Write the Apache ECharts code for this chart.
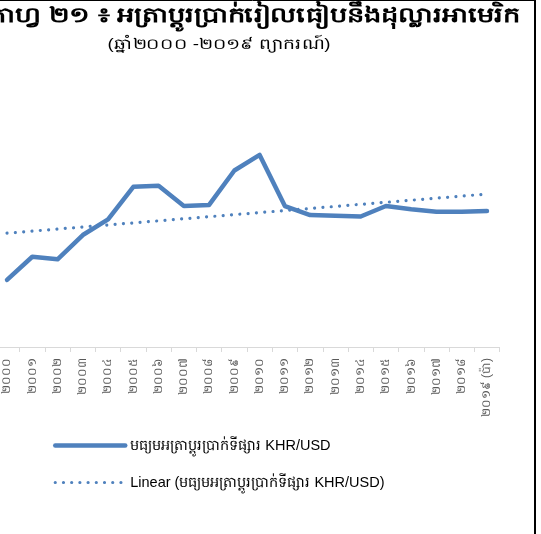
<!DOCTYPE html>
<html>
<head>
<meta charset="utf-8">
<style>
html,body{margin:0;padding:0;background:#fff;overflow:hidden;}
#wrap{position:relative;width:541px;height:534px;overflow:hidden;}
#chart{position:absolute;left:-30px;top:0;width:571px;height:534px;}
</style>
<script src="https://cdn.jsdelivr.net/npm/echarts@6/dist/echarts.min.js"></script>
</head>
<body>
<div id="wrap"><div id="chart"></div></div>
<script>
const categories = ['២០០០','២០០១','២០០២','២០០៣','២០០៤','២០០៥','២០០៦','២០០៧','២០០៨','២០០៩','២០១០','២០១១','២០១២','២០១៣','២០១៤','២០១៥','២០១៦','២០១៧','២០១៨','២០១៩ (ប៉ា)'];
const rateValues = [3840,3904,3897,3964,4007,4097,4100,4044,4047,4142,4185,4044,4019,4017,4015,4044,4035,4028,4028,4030];
const trendStart = 3969;
const trendEnd = 4077;
const seriesName = 'មធ្យមអត្រាប្តូរប្រាក់ទីផ្សារ KHR/USD';
const trendName = 'Linear (មធ្យមអត្រាប្តូរប្រាក់ទីផ្សារ KHR/USD)';
const titleText = 'ក្រាហ្វ ២១ ៖ អត្រាប្តូរប្រាក់រៀលធៀបនឹងដុល្លារអាមេរិក';
const subtitleText = '(ឆ្នាំ២០០០ -២០១៩ ព្យាករណ៍)';

const trendData = categories.map((c, i) => i === 0 ? trendStart : (i === categories.length - 1 ? trendEnd : null));
const FONT = '"Liberation Sans", "Noto Sans", "DejaVu Sans", sans-serif';
const OX = 30; // container offset (chart is cropped on the left)
const BLUE = '#4F81BD';

const chart = echarts.init(document.getElementById('chart'));
chart.setOption({
  animation: false,
  backgroundColor: '#ffffff',
  grid: { left: OX - 5.6, right: 41.4, top: 77, bottom: 187, containLabel: false },
  xAxis: {
    type: 'category',
    data: categories,
    boundaryGap: true,
    axisLine: { lineStyle: { color: '#d9d9d9', width: 1 } },
    axisTick: { show: true, alignWithLabel: false, length: 5, lineStyle: { color: '#d9d9d9' } },
    axisLabel: { rotate: 90, interval: 0, margin: 11, fontSize: 12, color: '#595959', fontFamily: FONT }
  },
  yAxis: {
    type: 'value', min: 3655, max: 4400, show: false, splitLine: { show: false }
  },
  legend: {
    orient: 'vertical', left: OX + 53, top: 438, padding: 0, itemWidth: 70, itemHeight: 14, itemGap: 22,
    itemStyle: { opacity: 0 },
    textStyle: { fontSize: 14.5, color: '#000', fontFamily: FONT },
    data: [
      { name: seriesName, lineStyle: { width: 4.5, cap: 'round', color: BLUE } },
      { name: trendName, lineStyle: { width: 3.2, type: [0.01, 8.2], cap: 'round', color: BLUE } }
    ]
  },
  series: [
    {
      name: seriesName, type: 'line', data: rateValues, symbol: 'none',
      lineStyle: { color: BLUE, width: 4.5, cap: 'round', join: 'round' },
      itemStyle: { color: BLUE }
    },
    {
      name: trendName, type: 'line', data: trendData, connectNulls: true, symbol: 'none',
      lineStyle: { color: BLUE, width: 3.2, type: [0.01, 8.33], cap: 'round' },
      itemStyle: { color: BLUE }
    }
  ],
  graphic: [
    { type: 'text', x: OX + 520, y: 16, scaleX: 1.3, style: { text: titleText, textAlign: 'right', textVerticalAlign: 'middle', font: 'bold 21px ' + FONT, fill: '#000' } },
    { type: 'text', x: OX + 219, y: 45, scaleX: 1.25, style: { text: subtitleText, textAlign: 'center', textVerticalAlign: 'middle', font: '15px ' + FONT, fill: '#000' } },
    { type: 'line', shape: { x1: 0, y1: 0.5, x2: OX + 535, y2: 0.5 }, style: { stroke: '#000', lineWidth: 1 } },
    { type: 'line', shape: { x1: OX + 535, y1: 0, x2: OX + 535, y2: 534 }, style: { stroke: '#000', lineWidth: 2 } }
  ]
});
</script>
</body>
</html>
